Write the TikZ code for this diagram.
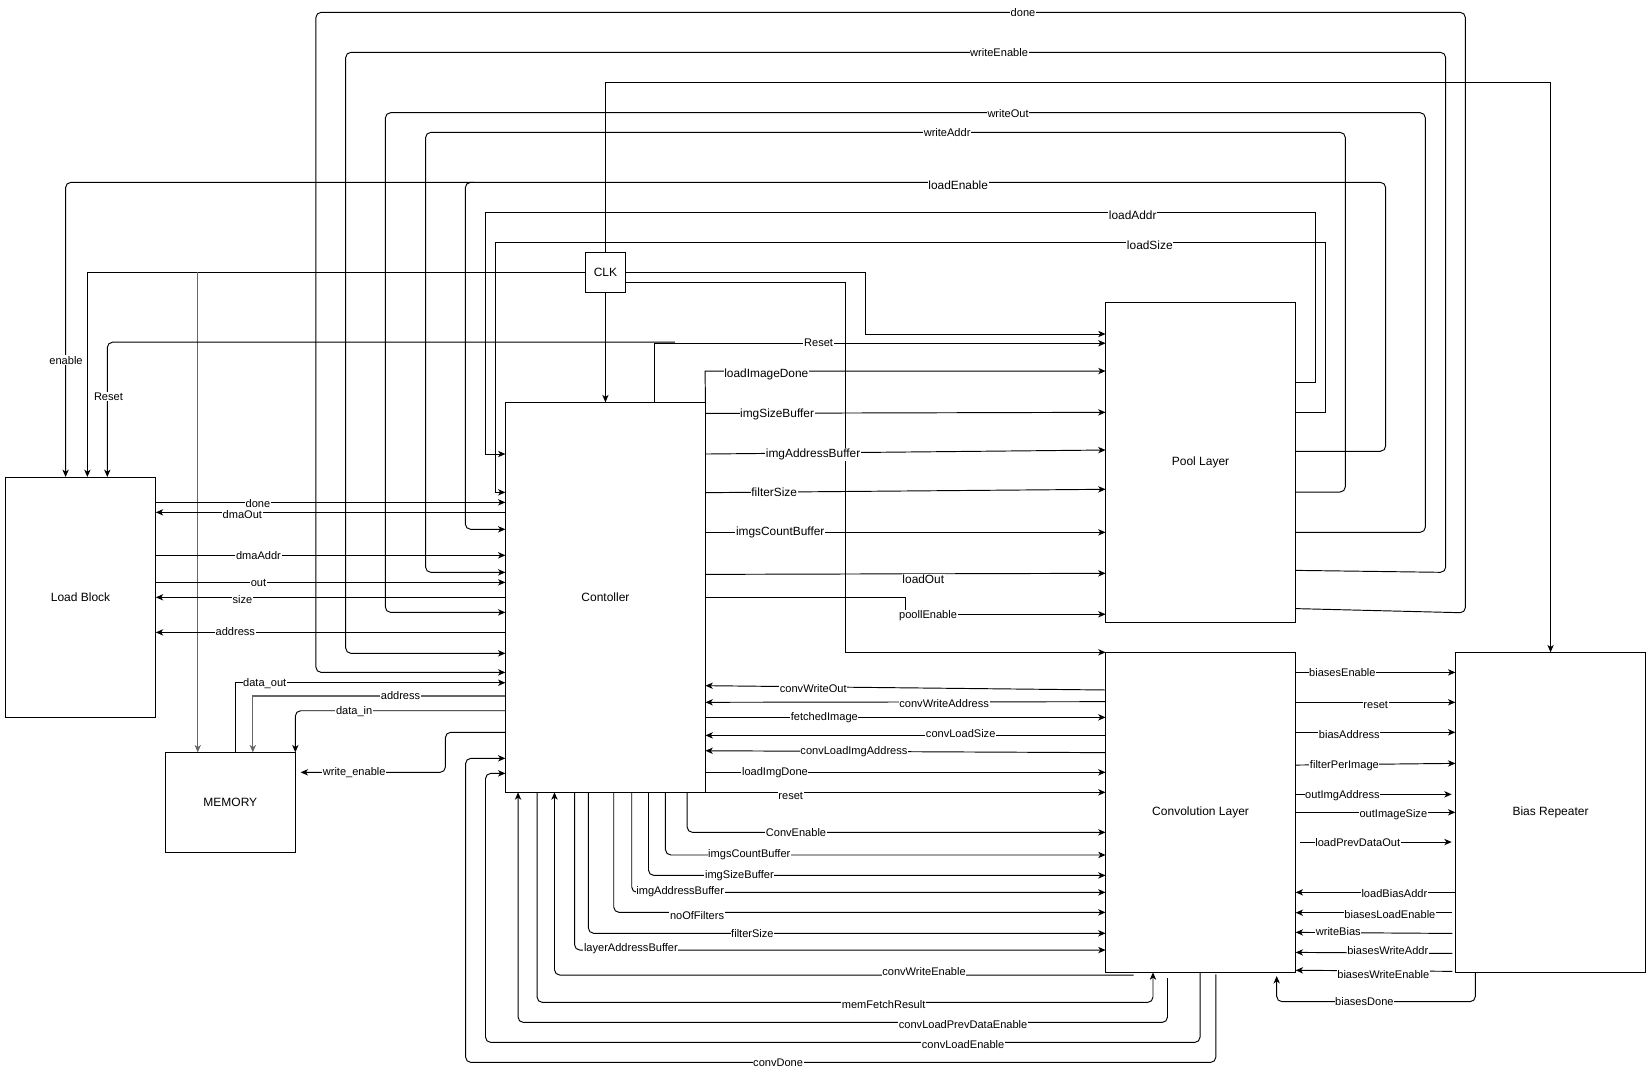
\documentclass[tikz,border=0pt]{standalone}
\usepackage{fontspec}
\setmainfont{Liberation Sans}
\usetikzlibrary{arrows.meta}
\begin{document}
\begin{tikzpicture}[x=1pt,y=-1pt,
  ln/.style={line width=0.9pt, draw=black},
  arr/.style={ln, -{Stealth[length=7pt,width=6pt,inset=2pt]}},
  rc/.style={rounded corners=5pt},
  blk/.style={draw, line width=0.9pt, anchor=north west, inner sep=0pt, outer sep=0pt, font=\fontsize{11.4}{13}\selectfont},
  lbl/.style={fill=white, inner sep=0.6pt, font=\fontsize{10.5}{12}\selectfont},
  lblb/.style={lbl, font=\fontsize{11.3}{13}\selectfont},
  gry/.style={draw=black!60, line width=1.1pt}
]
\useasboundingbox (0,0) rectangle (1568,1022);

% blocks
\node[blk, minimum width=143pt, minimum height=228pt] (lb) at (5,453) {Load Block};
\node[blk, minimum width=123.5pt, minimum height=95pt] (mem) at (157,714.5) {MEMORY};
\node[blk, minimum width=190pt, minimum height=370.5pt] (ctrl) at (480,382) {Contoller};
\node[blk, minimum width=38pt, minimum height=38pt] (clk) at (556,239.6) {CLK};
\node[blk, minimum width=180.3pt, minimum height=303.7pt] (pool) at (1050,287) {Pool Layer};
\node[blk, minimum width=180.5pt, minimum height=304pt] (conv) at (1050,619.5) {Convolution Layer};
\node[blk, minimum width=180.8pt, minimum height=304pt] (bias) at (1382.2,619.5) {Bias Repeater};

% free ends
\coordinate (weEnd) at (285.5,733.5);
\coordinate (cweS) at (1076.6,926);
\coordinate (clpS) at (1108.8,929);
\coordinate (cdS) at (1154.7,925.4);
\coordinate (bdEnd) at (1212.5,927);
\coordinate (lpdS) at (1234.7,799.7);
\coordinate (oiaE) at (1378.7,754.4);
\coordinate (lpdE) at (1378.7,799.7);
\coordinate (bleS) at (1379.4,866.8);
\coordinate (wbS) at (1379.4,886.5);
\coordinate (bwaS) at (1379.4,905.5);
\coordinate (bweS) at (1379.4,922.5);
\coordinate (rsJ) at (641,325);

% top loops: pool -> controller
\draw[arr,rc] (pool.east |- 0,578) -- (1391.7,582) -- (1391.7,11.7) -- (300,11.7) -- (300,638.6) -- (ctrl.west |- 0,638.6);
\draw[arr,rc] (pool.east |- 0,541.7) -- (1373,543.6) -- (1373,49.7) -- (328.3,49.7) -- (328.3,620.5) -- (ctrl.west |- 0,620.5);
\draw[arr,rc] (pool.east |- 0,505.6) -- (1353.7,505.6) -- (1353.7,107) -- (366,107) -- (366,581.6) -- (ctrl.west |- 0,581.6);
\draw[arr,rc] (pool.east |- 0,467.3) -- (1277.7,467.3) -- (1277.7,125.7) -- (404.2,125.7) -- (404.2,543.6) -- (ctrl.west |- 0,543.6);
\draw[arr,rc] (pool.east |- 0,428.6) -- (1316,428.6) -- (1316,173.2) -- (441.9,173.2) -- (441.9,502.7) -- (ctrl.west |- 0,502.7);
\draw[arr,rc] (450,173.2) -- (62.3,173.2) -- (lb.north -| 62.3,0);
\draw[arr] (pool.east |- 0,363.1) -- (1249.2,363.1) -- (1249.2,201.7) -- (461,201.7) -- (461,431.2) -- (ctrl.west |- 0,431.2);
\draw[arr] (pool.east |- 0,391.6) -- (1258.8,391.6) -- (1258.8,230.2) -- (470.5,230.2) -- (470.5,467.6) -- (ctrl.west |- 0,467.6);

% clock
\draw[arr] (clk.north) -- (clk.north |- 0,78.2) -- (bias.north |- 0,78.2) -- (bias.north);
\draw[arr] (clk.south) -- (clk.south |- ctrl.north);
\draw[arr] (clk.west) -- (83,258.6) -- (lb.north -| 83,0);
\draw[arr,gry] (187.8,258.6) -- (mem.north -| 187.8,0);
\draw[arr] (clk.east) -- (821.7,258.6) -- (821.7,317.2) -- (pool.west |- 0,317.2);
\draw[arr] (clk.east |- 0,268.1) -- (803,268.1) -- (803,619.5) -- (conv.north west);

% reset
\draw[arr] (ctrl.north -| 622,0) -- (622,326) -- (pool.west |- 0,326);
\draw[arr,rc] (rsJ) -- (101.9,325) -- (lb.north -| 101.9,0);

% controller -> pool
\draw[arr] (ctrl.north east) -- (669.6,352.4) -- (pool.west |- 0,352.4);
\draw[arr] (ctrl.east |- 0,392.6) -- (pool.west |- 0,391.6);
\draw[arr] (ctrl.east |- 0,431.2) -- (pool.west |- 0,427.4);
\draw[arr] (ctrl.east |- 0,467.9) -- (pool.west |- 0,464.7);
\draw[arr] (ctrl.east |- 0,505.6) -- (pool.west |- 0,505.6);
\draw[arr] (ctrl.east |- 0,545.5) -- (pool.west |- 0,544.5);
\draw[arr] (ctrl.east |- 0,567.3) -- (860,567.3) -- (860,583.4) -- (pool.west |- 0,583.4);

% load block <-> controller
\draw[arr] (lb.east |- 0,477.1) -- (ctrl.west |- 0,477.1);
\draw[arr] (ctrl.west |- 0,486.6) -- (lb.east |- 0,486.6);
\draw[arr] (lb.east |- 0,527.4) -- (ctrl.west |- 0,527.4);
\draw[arr] (lb.east |- 0,553.1) -- (ctrl.west |- 0,553.1);
\draw[arr] (ctrl.west |- 0,567.3) -- (lb.east |- 0,567.3);
\draw[arr] (ctrl.west |- 0,600.6) -- (lb.east |- 0,600.6);

% memory
\draw[arr] (mem.north -| 223.8,0) -- (223.8,648.4) -- (ctrl.west |- 0,648.4);
\draw[arr,gry] (ctrl.west |- 0,661) -- (240.1,661) -- (mem.north -| 240.1,0);
\draw[arr,rc] (ctrl.west |- 0,675) -- (mem.north east |- 0,675) -- (mem.north east);
\draw[arr,rc] (ctrl.west |- 0,695.5) -- (423,695.5) -- (423,733.5) -- (weEnd);

% conv <-> controller (right side)
\draw[arr] (conv.west |- 0,655.3) -- (ctrl.east |- 0,651.2);
\draw[arr] (conv.west |- 0,666.4) -- (ctrl.east |- 0,667);
\draw[arr] (ctrl.east |- 0,681.3) -- (conv.west |- 0,681.3);
\draw[arr] (conv.west |- 0,698.4) -- (ctrl.east |- 0,698.4);
\draw[arr] (conv.west |- 0,714.8) -- (ctrl.east |- 0,713);
\draw[arr] (ctrl.east |- 0,733.5) -- (conv.west |- 0,733.5);
\draw[arr] (ctrl.south east) -- (conv.west |- 0,752.5);

% controller bottom -> conv
\draw[arr,rc] (ctrl.south -| 652.6,0) -- (652.6,790.5) -- (conv.west |- 0,790.5);
\draw[arr,rc] (ctrl.south -| 632,0) -- (632,812) -- (conv.west |- 0,812);
\draw[arr,rc] (ctrl.south -| 615.9,0) -- (615.9,831.4) -- (conv.west |- 0,831.4);
\draw[arr,rc] (ctrl.south -| 600,0) -- (600,847.5) -- (conv.west |- 0,847.5);
\draw[arr,rc] (ctrl.south -| 582.9,0) -- (582.9,866.5) -- (conv.west |- 0,866.5);
\draw[arr,rc] (ctrl.south -| 558.8,0) -- (558.8,886.4) -- (conv.west |- 0,886.4);
\draw[arr,rc] (ctrl.south -| 545.7,0) -- (545.7,902.3) -- (conv.west |- 0,902.3);
\draw[arr,rc] (cweS) -- (526.6,926) -- (ctrl.south -| 526.6,0);
\draw[arr,rc] (ctrl.south -| 510.1,0) -- (510.1,952) -- (1095,952) -- (conv.south -| 1095,0);
\draw[arr,rc] (clpS) -- (1108.8,971) -- (492,971) -- (ctrl.south -| 492,0);
\draw[arr,rc] (conv.south -| 1139.7,0) -- (1139.7,990) -- (461.1,990) -- (461.1,734.5) -- (ctrl.west |- 0,734.5);
\draw[arr,rc] (cdS) -- (1154.7,1009) -- (442.2,1009) -- (442.2,720.2) -- (ctrl.west |- 0,720.2);

% conv <-> bias
\draw[arr] (conv.east |- 0,638.6) -- (bias.west |- 0,638.6);
\draw[arr] (conv.east |- 0,667) -- (bias.west |- 0,667);
\draw[arr] (conv.east |- 0,695.5) -- (bias.west |- 0,695.5);
\draw[arr] (conv.east |- 0,726.6) -- (bias.west |- 0,725);
\draw[arr] (conv.east |- 0,754.4) -- (oiaE);
\draw[arr] (conv.east |- 0,771.5) -- (bias.west |- 0,771.5);
\draw[arr] (lpdS) -- (lpdE);
\draw[arr] (bias.west |- 0,847.5) -- (conv.east |- 0,847.5);
\draw[arr] (bleS) -- (conv.east |- 0,866.8);
\draw[arr] (wbS) -- (conv.east |- 0,885.5);
\draw[arr] (bwaS) -- (conv.east |- 0,904.5);
\draw[arr] (bweS) -- (conv.east |- 0,921.5);
\draw[arr,rc] (bias.south -| 1401.2,0) -- (1401.2,951.3) -- (1212.5,951.3) -- (bdEnd);

% labels
\node[lbl] (t1) at (971.6,11.7) {done};
\node[lbl] (t2) at (948.8,49.7) {writeEnable};
\node[lbl] (t3) at (957.4,108.3) {writeOut};
\node[lbl] (t4) at (899.5,125.7) {writeAddr};
\node[lblb] (t5) at (910,176) {loadEnable};
\node[lblb] (t6) at (1075.8,204) {loadAddr};
\node[lblb] (t7) at (1092,232.5) {loadSize};
\node[lbl] (t8) at (62.7,342) {enable};
\node[lbl] (t9) at (103,377) {Reset};
\node[lbl] (t10) at (777.4,325.5) {Reset};
\node[lblb] (t11) at (727.8,356) {loadImageDone};
\node[lblb] (t12) at (738,394) {imgSizeBuffer};
\node[lblb] (t13) at (772.2,431.6) {imgAddressBuffer};
\node[lblb] (t14) at (735.3,467.6) {filterSize};
\node[lblb] (t15) at (741,505.6) {imgsCountBuffer};
\node[lblb] (t16) at (876.9,550.2) {loadOut};
\node[lbl] (t17) at (881.4,585) {poollEnable};
\node[lbl] (t18) at (245,478) {done};
\node[lbl] (t19) at (230.2,488.5) {dmaOut};
\node[lbl] (t20) at (245.5,528) {dmaAddr};
\node[lbl] (t21) at (245.5,553.8) {out};
\node[lbl] (t22) at (230.2,569.5) {size};
\node[lbl] (t23) at (223.5,600) {address};
\node[lbl] (t24) at (251.4,649.5) {data\_out};
\node[lbl] (t25) at (380.4,661) {address};
\node[lbl] (t26) at (336.4,675.5) {data\_in};
\node[lbl] (t27) at (336.4,733.5) {write\_enable};
\node[lbl] (t28) at (772.4,653.7) {convWriteOut};
\node[lbl] (t29) at (896.7,668.6) {convWriteAddress};
\node[lbl] (t30) at (782.9,681.8) {fetchedImage};
\node[lbl] (t31) at (912.4,696.5) {convLoadSize};
\node[lbl] (t32) at (811,713.5) {convLoadImgAddress};
\node[lbl] (t33) at (736,733.5) {loadImgDone};
\node[lbl] (t34) at (751,755.5) {reset};
\node[lbl] (t35) at (756,791) {ConvEnable};
\node[lbl] (t36) at (711.6,812) {imgsCountBuffer};
\node[lbl] (t37) at (702.2,831.4) {imgSizeBuffer};
\node[lbl] (t38) at (646,846.5) {imgAddressBuffer};
\node[lbl] (t39) at (662,869.5) {noOfFilters};
\node[lbl] (t40) at (714.6,886.4) {filterSize};
\node[lbl] (t41) at (599.2,901) {layerAddressBuffer};
\node[lbl] (t42) at (877.6,922.5) {convWriteEnable};
\node[lbl] (t43) at (839.2,953.6) {memFetchResult};
\node[lbl] (t44) at (914.7,973.5) {convLoadPrevDataEnable};
\node[lbl] (t45) at (914.7,992) {convLoadEnable};
\node[lbl] (t46) at (739,1009) {convDone};
\node[lbl] (t47) at (1274.9,638.6) {biasesEnable};
\node[lbl] (t48) at (1306.6,669.9) {reset};
\node[lbl] (t49) at (1281.5,697.4) {biasAddress};
\node[lbl] (t50) at (1276.8,727.5) {filterPerImage};
\node[lbl] (t51) at (1274.9,756) {outImgAddress};
\node[lbl] (t52) at (1323.3,774) {outImageSize};
\node[lbl] (t53) at (1289.5,800.6) {loadPrevDataOut};
\node[lbl] (t54) at (1324.3,849) {loadBiasAddr};
\node[lbl] (t55) at (1320,869) {biasesLoadEnable};
\node[lbl] (t56) at (1271,885) {writeBias};
\node[lbl] (t57) at (1318,902.3) {biasesWriteAddr};
\node[lbl] (t58) at (1313.8,926) {biasesWriteEnable};
\node[lbl] (t59) at (1295.8,951.3) {biasesDone};
\end{tikzpicture}
\end{document}
